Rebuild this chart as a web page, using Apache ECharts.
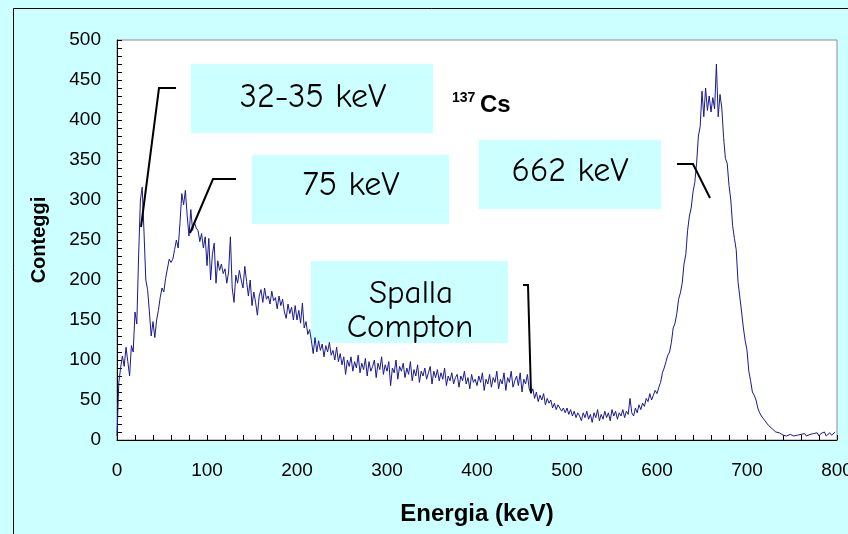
<!DOCTYPE html>
<html>
<head>
<meta charset="utf-8">
<script src="https://cdn.jsdelivr.net/npm/echarts@6/dist/echarts.min.js"></script>
<style>
html,body{margin:0;padding:0;background:#ccffff;overflow:hidden;}
#chart{width:848px;height:534px;}
</style>
</head>
<body>
<div id="chart"></div>
<script>
const energyStart = 0;
const energyStep = 2;
const counts0_198 = [
  5, 72, 90, 105, 92, 116, 98, 80, 118, 110,
  160, 145, 230, 300, 316, 260, 200, 188, 160, 130,
  148, 128, 150, 162, 178, 190, 185, 202, 204, 226,
  222, 226, 238, 250, 240, 272, 308, 294, 312, 280,
  255, 288, 262, 272, 265, 262, 248, 258, 240, 254,
  218, 252, 200, 232, 246, 196, 224, 212, 220, 208,
  214, 196, 210, 254, 190, 172, 206, 196, 212, 200,
  190, 217, 198, 180, 200, 168, 185, 172, 156, 180,
  188, 172, 190, 176, 180, 170, 186, 174, 178, 164,
  180, 168, 176, 160, 152, 170, 158, 166, 150, 168
];
const counts200_398 = [
  150, 162, 146, 171, 140, 148, 132, 138, 124, 108,
  128, 110, 124, 112, 120, 104, 118, 110, 122, 106,
  112, 100, 116, 98, 108, 94, 104, 82, 100, 92,
  104, 86, 98, 90, 106, 84, 96, 88, 102, 80,
  98, 86, 92, 100, 78, 96, 88, 104, 82, 94,
  86, 98, 68, 90, 84, 100, 76, 92, 86, 96,
  78, 90, 82, 98, 74, 88, 80, 94, 72, 86,
  80, 90, 76, 84, 92, 70, 86, 78, 88, 74,
  84, 76, 90, 68, 80, 74, 84, 70, 78, 82,
  66, 80, 74, 86, 70, 78, 64, 82, 72, 76
];
const counts400_598 = [
  68, 80, 72, 84, 62, 76, 70, 82, 66, 78,
  72, 86, 64, 76, 70, 84, 62, 78, 72, 86,
  66, 74, 80, 68, 84, 60, 76, 70, 82, 64,
  58, 64, 52, 60, 48, 56, 50, 58, 44, 52,
  46, 50, 40, 46, 38, 44, 46, 36, 40, 34,
  40, 32, 38, 30, 36, 28, 34, 30, 24, 34,
  28, 36, 26, 32, 22, 34, 28, 38, 24, 32,
  26, 36, 28, 34, 24, 38, 30, 36, 26, 34,
  30, 38, 28, 36, 32, 52, 34, 30, 40, 34,
  44, 38, 46, 42, 52, 48, 58, 50, 56, 62
];
const counts600_798 = [
  58, 66, 72, 84, 90, 98, 106, 110, 122, 140,
  146, 158, 176, 184, 196, 220, 232, 262, 280, 290,
  310, 322, 346, 380, 392, 436, 404, 440, 412, 430,
  410, 428, 414, 470, 404, 432, 415, 378, 352, 346,
  318, 300, 268, 252, 238, 198, 196, 160, 140, 124,
  112, 86, 74, 60, 56, 50, 40, 34, 30, 28,
  24, 22, 18, 16, 14, 12, 10, 8, 9, 7,
  6, 7, 5, 6, 7, 6, 5, 7, 6, 5,
  7, 6, 8, 5, 6, 7, 5, 8, 6, 9,
  5, 8, 6, 10, 5, 7, 9, 6, 8, 10
];

const xTicks = { min: 0, max: 800, interval: 100 };
const yTicks = { min: 0, max: 500, interval: 50 };
const xTitle = 'Energia (keV)';
const yTitle = 'Conteggi';
const annotations = ['32-35 keV', '75 keV', '662 keV', 'Spalla', 'Compton'];
const isotopeMass = '137';
const isotopeSymbol = 'Cs';

const allCounts = counts0_198.concat(counts200_398, counts400_598, counts600_798);
const seriesData = allCounts.map((c, i) => [energyStart + i * energyStep, c]);

const chart = echarts.init(document.getElementById('chart'), null, { width: 848, height: 534 });
const boxColor = '#ccffff';
const annFont = '"Comic Sans MS", "Comic Neue", "Open Sans", sans-serif';

const option = {
  backgroundColor: '#ccffff',
  animation: false,
  grid: {
    left: 117, top: 40, right: 11, bottom: 94,
    outerBoundsMode: 'none',
    containLabel: false,
    show: true, borderColor: '#8c8c8c', borderWidth: 1, backgroundColor: '#ffffff'
  },
  xAxis: {
    type: 'value', min: xTicks.min, max: xTicks.max, interval: xTicks.interval,
    name: xTitle, nameLocation: 'middle', nameGap: 62,
    nameTextStyle: { fontFamily: '"Liberation Sans", Arial', fontWeight: 'bold', fontSize: 24, color: '#000' },
    axisLine: { show: true, onZero: false, lineStyle: { color: '#000', width: 1 } },
    axisTick: { show: true, inside: true, length: 5, lineStyle: { color: '#000' } },
    minorTick: { show: true, splitNumber: 5, length: 5, lineStyle: { color: '#000' } },
    splitLine: { show: false },
    axisLabel: { margin: 21, fontSize: 19, color: '#000', fontFamily: '"Liberation Sans Narrow", "Liberation Sans", Arial' }
  },
  yAxis: {
    type: 'value', min: yTicks.min, max: yTicks.max, interval: yTicks.interval,
    name: yTitle, nameLocation: 'middle', nameGap: 68, nameRotate: 90,
    nameTextStyle: { fontFamily: '"Liberation Sans", Arial', fontWeight: 'bold', fontSize: 20, color: '#000' },
    axisLine: { show: true, onZero: false, lineStyle: { color: '#000', width: 1 } },
    axisTick: { show: true, inside: true, length: 5, lineStyle: { color: '#000' } },
    minorTick: { show: true, splitNumber: 5, length: 5, lineStyle: { color: '#000' } },
    splitLine: { show: false },
    axisLabel: { margin: 16, fontSize: 19, color: '#000', fontFamily: '"Liberation Sans", Arial' }
  },
  series: [{
    type: 'line', data: seriesData, showSymbol: false, symbol: 'none', z: 5,
    lineStyle: { color: '#1a1a8c', width: 1 }
  }],
  graphic: [
    { type: 'rect', z: -20, silent: true, shape: { x: 13.5, y: 8.5, width: 900, height: 600 },
      style: { fill: 'none', stroke: '#000', lineWidth: 1 } },
    { type: 'rect', z: 1, shape: { x: 191, y: 64, width: 242, height: 69 }, style: { fill: boxColor } },
    { type: 'rect', z: 1, shape: { x: 252, y: 155, width: 197, height: 69 }, style: { fill: boxColor } },
    { type: 'rect', z: 1, shape: { x: 479, y: 140, width: 182, height: 69 }, style: { fill: boxColor } },
    { type: 'rect', z: 1, shape: { x: 311, y: 261, width: 197, height: 82 }, style: { fill: boxColor } },
    { type: 'text', z: 10, style: { text: annotations[0], x: 313, y: 97, align: 'center', verticalAlign: 'middle', font: '34px ' + annFont, fill: '#000' } },
    { type: 'text', z: 10, style: { text: annotations[1], x: 351, y: 185, align: 'center', verticalAlign: 'middle', font: '34px ' + annFont, fill: '#000' } },
    { type: 'text', z: 10, style: { text: annotations[2], x: 570, y: 171, align: 'center', verticalAlign: 'middle', font: '34px ' + annFont, fill: '#000' } },
    { type: 'text', z: 10, style: { text: annotations[3], x: 411, y: 294, align: 'center', verticalAlign: 'middle', font: '33px ' + annFont, fill: '#000' } },
    { type: 'text', z: 10, style: { text: annotations[4], x: 410, y: 328, align: 'center', verticalAlign: 'middle', font: '33px ' + annFont, fill: '#000' } },
    { type: 'text', z: 10, style: { text: isotopeMass, x: 452, y: 98, align: 'left', verticalAlign: 'middle', font: 'bold 14px "Liberation Sans", Arial', fill: '#000' } },
    { type: 'text', z: 10, style: { text: isotopeSymbol, x: 480, y: 105, align: 'left', verticalAlign: 'middle', font: 'bold 24px "Liberation Sans", Arial', fill: '#000' } },
    { type: 'polyline', z: 10, shape: { points: [[176, 88], [159, 88], [141, 227]] }, style: { stroke: '#000', lineWidth: 2, fill: 'none' } },
    { type: 'polyline', z: 10, shape: { points: [[236, 179], [213, 179], [190, 233]] }, style: { stroke: '#000', lineWidth: 2, fill: 'none' } },
    { type: 'polyline', z: 10, shape: { points: [[677, 164], [693, 164], [710, 198]] }, style: { stroke: '#000', lineWidth: 2, fill: 'none' } },
    { type: 'polyline', z: 10, shape: { points: [[523, 285], [528, 285], [531, 393]] }, style: { stroke: '#000', lineWidth: 2, fill: 'none' } }
  ]
};
chart.setOption(option);
</script>
</body>
</html>
